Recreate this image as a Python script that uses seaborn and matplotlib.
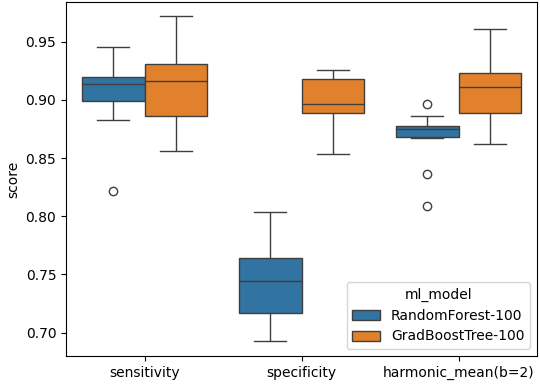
import matplotlib
matplotlib.use("Agg")
import matplotlib.pyplot as plt
import seaborn as sns
import pandas as pd

metrics = ["sensitivity", "specificity", "harmonic_mean(b=2)"]
models = ["RandomForest-100", "GradBoostTree-100"]

rf_sensitivity = [0.822, 0.8825, 0.897, 0.905, 0.911, 0.916, 0.917, 0.921, 0.930, 0.9457]
gb_sensitivity = [0.856, 0.872, 0.884, 0.891, 0.912, 0.920, 0.926, 0.9325, 0.948, 0.9716]
rf_specificity = [0.693, 0.705, 0.714, 0.724, 0.739, 0.749, 0.760, 0.765, 0.781, 0.8037]
gb_specificity = [0.8537, 0.872, 0.888, 0.8912, 0.895, 0.8986, 0.917, 0.918, 0.921, 0.9253]
rf_harmonic = [0.8084, 0.8365, 0.8675, 0.8687, 0.8738, 0.8762, 0.8772, 0.8778, 0.8865, 0.896]
gb_harmonic = [0.8623, 0.876, 0.887, 0.895, 0.906, 0.916, 0.921, 0.9233, 0.940, 0.9612]

series = {
    ("sensitivity", "RandomForest-100"): rf_sensitivity,
    ("sensitivity", "GradBoostTree-100"): gb_sensitivity,
    ("specificity", "RandomForest-100"): rf_specificity,
    ("specificity", "GradBoostTree-100"): gb_specificity,
    ("harmonic_mean(b=2)", "RandomForest-100"): rf_harmonic,
    ("harmonic_mean(b=2)", "GradBoostTree-100"): gb_harmonic,
}
rows = []
for (metric, model), vals in series.items():
    for v in vals:
        rows.append({"metric": metric, "ml_model": model, "score": v})
df = pd.DataFrame(rows)

fig, ax = plt.subplots(figsize=(5.4, 3.85), dpi=100)
sns.boxplot(data=df, x="metric", y="score", hue="ml_model",
            order=metrics, hue_order=models, ax=ax)
ax.set_xlabel("")
ax.set_ylabel("score")
ax.set_ylim(0.680, 0.984)
ax.set_yticks([0.70, 0.75, 0.80, 0.85, 0.90, 0.95])
sns.move_legend(ax, "lower right", title="ml_model")
fig.subplots_adjust(left=66/540, right=537/540, top=1-2/385, bottom=1-356/385)
fig.savefig("out.png", dpi=100)
